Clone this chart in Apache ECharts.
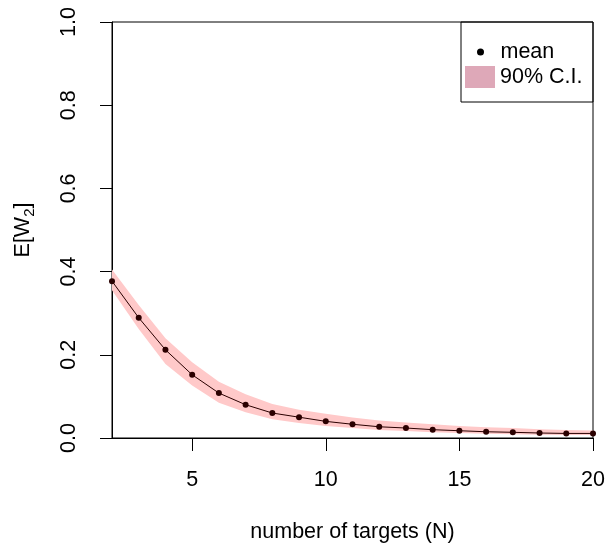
<!DOCTYPE html>
<html>
<head>
<meta charset="utf-8">
<script src="https://cdn.jsdelivr.net/npm/echarts@6/dist/echarts.min.js"></script>
<style>
  html, body { margin: 0; padding: 0; background: #fff; }
  #main { width: 608px; height: 546px; }
</style>
</head>
<body>
<div id="main"></div>
<script>
// number of targets
var nValues = [2, 3, 4, 5, 6, 7, 8, 9, 10, 11, 12, 13, 14, 15, 16, 17, 18, 19, 20];
// mean E[W2]
var meanValues = [0.377, 0.289, 0.212, 0.152, 0.108, 0.080, 0.060, 0.050, 0.040, 0.033,
  0.027, 0.024, 0.020, 0.0175, 0.015, 0.0137, 0.012, 0.011, 0.011];
// 90% C.I. bounds
var ciLower = [0.355, 0.262, 0.178, 0.126, 0.085, 0.062, 0.045, 0.036, 0.029, 0.024,
  0.019, 0.017, 0.014, 0.012, 0.010, 0.009, 0.008, 0.007, 0.007];
var ciUpper = [0.405, 0.320, 0.240, 0.182, 0.135, 0.105, 0.082, 0.068, 0.058, 0.049,
  0.042, 0.037, 0.033, 0.029, 0.026, 0.024, 0.021, 0.019, 0.018];
var xTicks = [5, 10, 15, 20];

var font = 'Liberation Sans, Arial, sans-serif';
var fs = 21.5;
var chart = echarts.init(document.getElementById('main'), null, { renderer: 'canvas' });

var bandData = nValues.map(function (n, i) { return [n, ciLower[i], ciUpper[i]]; });
var meanData = nValues.map(function (n, i) { return [n, meanValues[i]]; });

// the whole band is drawn as one polygon, from the first item
function renderBand(params, api) {
  if (params.dataIndex !== 0) return null;
  var pts = [];
  for (var i = 0; i < nValues.length; i++) pts.push(api.coord([nValues[i], ciUpper[i]]));
  for (var j = nValues.length - 1; j >= 0; j--) pts.push(api.coord([nValues[j], ciLower[j]]));
  return {
    type: 'polygon',
    shape: { points: pts },
    style: { fill: '#ffc9c9', stroke: null }
  };
}

var option = {
  backgroundColor: '#fff',
  animation: false,
  grid: {
    left: 112, right: 15, top: 22, bottom: 108,
    outerBoundsMode: 'none', containLabel: false,
    show: true, borderColor: '#000', borderWidth: 1, backgroundColor: 'transparent'
  },
  xAxis: {
    type: 'value',
    min: 2,
    max: 20,
    name: 'number of targets (N)',
    nameLocation: 'middle',
    nameGap: 83,
    nameTextStyle: { fontSize: fs, color: '#000', fontFamily: font },
    axisLine: { show: true, lineStyle: { color: '#000', width: 1 } },
    axisTick: { show: true, length: 13, customValues: xTicks, lineStyle: { color: '#000' } },
    axisLabel: { customValues: xTicks, margin: 31, fontSize: fs, color: '#000', fontFamily: font },
    splitLine: { show: false }
  },
  yAxis: {
    type: 'value',
    min: 0,
    max: 1,
    interval: 0.2,
    name: '{a|E[W}{sub|2}{a|]}',
    nameLocation: 'middle',
    nameRotate: 90,
    nameGap: 75,
    nameTextStyle: {
      color: '#000', fontFamily: font,
      rich: {
        a: { fontSize: fs, color: '#000', fontFamily: font },
        sub: { fontSize: 15, color: '#000', fontFamily: font, padding: [12, 0, 0, 0] }
      }
    },
    axisLine: { show: true, lineStyle: { color: '#000', width: 1 } },
    axisTick: { show: true, length: 12, lineStyle: { color: '#000' } },
    axisLabel: {
      rotate: 90, margin: 32, fontSize: fs, color: '#000', fontFamily: font,
      formatter: function (v) { return v.toFixed(1); }
    },
    splitLine: { show: false }
  },
  legend: [
    {
      left: 472, top: 36, padding: 5,
      itemWidth: 30, itemHeight: 7,
      textStyle: { fontSize: fs, color: '#000', fontFamily: font },
      data: [{ name: 'mean', icon: 'circle', itemStyle: { color: '#000' } }]
    },
    {
      left: 460, top: 61, padding: 5,
      itemWidth: 30, itemHeight: 22,
      textStyle: { fontSize: fs, color: '#000', fontFamily: font },
      data: [{ name: '90% C.I.', icon: 'rect', itemStyle: { color: '#dea8b8' } }]
    }
  ],
  graphic: [
    {
      type: 'rect',
      shape: { x: 461, y: 22, width: 132, height: 80 },
      style: { fill: 'none', stroke: '#000', lineWidth: 1 },
      z: 100
    }
  ],
  series: [
    {
      name: '90% C.I.',
      type: 'custom',
      renderItem: renderBand,
      data: bandData,
      encode: { x: 0, y: [1, 2] },
      itemStyle: { color: '#dea8b8' },
      silent: true,
      z: 1
    },
    {
      name: 'mean',
      type: 'line',
      data: meanData,
      symbol: 'circle',
      symbolSize: 6,
      lineStyle: { color: '#2a0000', width: 1 },
      itemStyle: { color: '#2a0000' },
      z: 5
    }
  ]
};

chart.setOption(option);
</script>
</body>
</html>
